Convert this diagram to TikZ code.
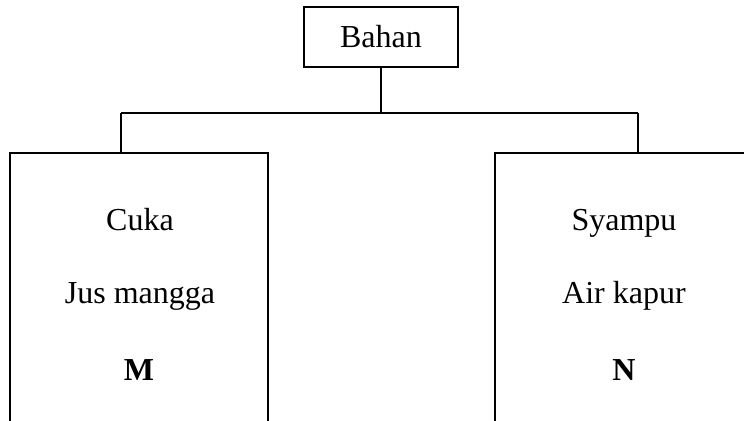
\documentclass[tikz,border=0pt]{standalone}
\usepackage{fontspec}
\setmainfont{Liberation Serif}
\usepackage{tikz}

\begin{document}
\begin{tikzpicture}[x=0.75pt,y=0.75pt,yscale=-1,xscale=1]
\useasboundingbox (0,0) rectangle (744,421);
\tikzset{every path/.style={line width=1.1pt}}
\tikzset{txt/.style={anchor=base,inner sep=0.75pt,font=\fontsize{24}{28}\selectfont}}

%Shape: Rectangle [id:bahan]
\node[draw,line width=1.1pt,minimum width=115.5pt,minimum height=45pt,inner sep=0pt,font=\fontsize{24}{28}\selectfont] (bahan) at (381,37) {Bahan};

% Connectors
\coordinate (split) at (381,113);
\coordinate (splitL) at (121,113);
\coordinate (splitR) at (638,113);
\coordinate (topL) at (121,153);
\coordinate (topR) at (638,153);
\draw (bahan.south) -- (split);
\draw (splitL) -- (splitR);
\draw (splitL) -- (topL);
\draw (splitR) -- (topR);

%Shape: Open box left
\draw (10,421) -- (10,153) -- (268,153) -- (268,421);
%Shape: Open box right
\draw (495,421) -- (495,153) -- (744,153);

% Text Node
\node[txt] (cuka) at (140,230) {Cuka};
% Text Node
\node[txt] (jus) at (140,303) {Jus mangga};
% Text Node
\node[txt] (m) at (139,380) {\textbf{M}};
% Text Node
\node[txt] (syampu) at (624,230) {Syampu};
% Text Node
\node[txt] (kapur) at (624,303) {Air kapur};
% Text Node
\node[txt] (n) at (624,380) {\textbf{N}};

\end{tikzpicture}
\end{document}
